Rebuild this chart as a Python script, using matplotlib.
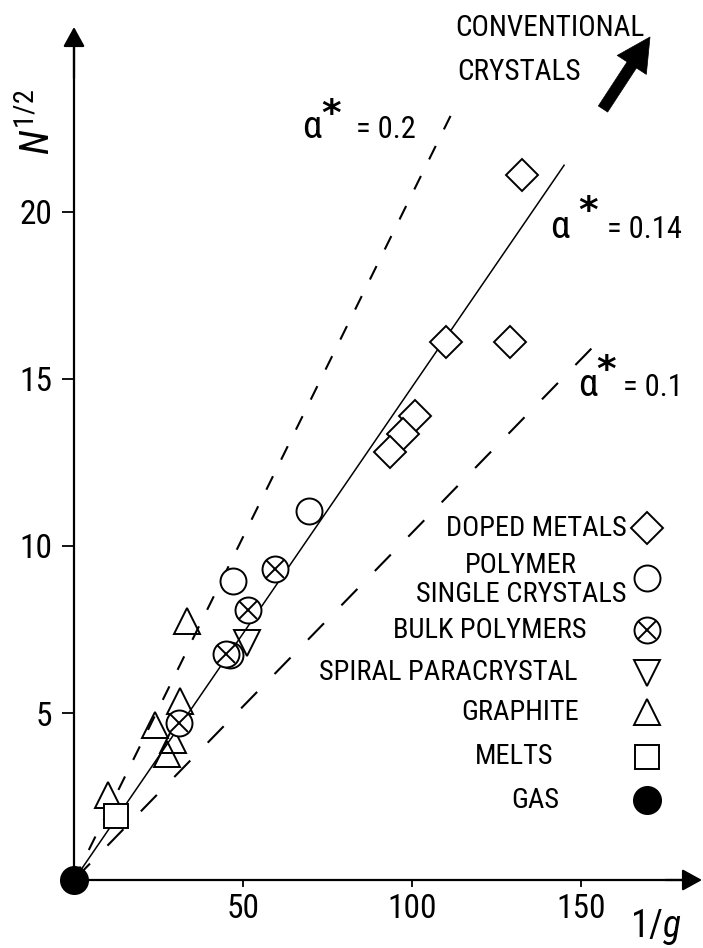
import matplotlib
matplotlib.use("Agg")
import matplotlib.pyplot as plt
from matplotlib import font_manager

# pick a narrow face if there is one, the original lettering is very condensed
names = {f.name for f in font_manager.fontManager.ttflist}
FONT = "DejaVu Sans"
for fam in ["Liberation Sans Narrow", "Roboto Condensed", "Open Sans Condensed"]:
    if fam in names:
        FONT = fam
        break

plt.rcParams["font.family"] = [FONT, "DejaVu Sans"]
plt.rcParams["mathtext.fontset"] = "custom"
plt.rcParams["mathtext.rm"] = FONT
plt.rcParams["mathtext.it"] = FONT + ":italic"
plt.rcParams["lines.scale_dashes"] = False

# %% data  (x = 1/g, y = N^1/2)
doped_x = [132.5, 110.0, 129.0, 101.0, 97.3, 93.5]
doped_y = [21.1, 16.1, 16.1, 13.9, 13.35, 12.8]

single_x = [69.5, 47.1, 46.2]
single_y = [11.06, 8.95, 6.74]

bulk_x = [59.5, 51.4, 45.0, 31.2]
bulk_y = [9.31, 8.08, 6.77, 4.71]

spiral_x = [51.3]
spiral_y = [7.09]

graphite_x = [33.3, 31.4, 24.0, 29.3, 27.4, 10.2]
graphite_y = [7.76, 5.37, 4.65, 4.19, 3.78, 2.54]

melts_x = [12.4]
melts_y = [1.93]

gas_x = [0.0]
gas_y = [0.0]

# alpha* lines, start and end points
a02_x, a02_y = [0, 112], [0, 23.0]
a014_x, a014_y = [0, 145], [0, 21.4]
a01_x, a01_y = [0, 154.7], [0, 16.08]

xticks = [50, 100, 150]
yticks = [5, 10, 15, 20]

legend_labels = ["DOPED METALS", "POLYMER\nSINGLE CRYSTALS", "BULK POLYMERS",
                 "SPIRAL PARACRYSTAL", "GRAPHITE", "MELTS", "GAS"]

# %% figure, axes mapped so the plot sits where it does in the scan
W, H = 703, 948
X0, Y0, SX, SY = 74, 880, 3.38, 33.4   # pixel of origin, px per unit
fig = plt.figure(figsize=(W / 100, H / 100), dpi=100)
ax = fig.add_axes([0, 0, 1, 1])
ax.set_xlim(-X0 / SX, (W - X0) / SX)
ax.set_ylim((Y0 - H) / SY, Y0 / SY)


def fp(xp, yp):
    # pixel position in the scan -> figure fraction
    return xp / W, 1 - yp / H


for s in ["top", "right"]:
    ax.spines[s].set_visible(False)
ax.spines["left"].set_position(("data", 0))
ax.spines["bottom"].set_position(("data", 0))
ax.spines["left"].set_bounds(0, 25.0)
ax.spines["bottom"].set_bounds(0, 182)
for s in ["left", "bottom"]:
    ax.spines[s].set_linewidth(1.6)

ax.set_xticks(xticks)
ax.set_yticks(yticks)
ax.tick_params(axis="y", direction="out", length=8.6, width=1.3, pad=7, labelsize=24)
ax.tick_params(axis="x", direction="out", length=5, width=1.3, pad=4, labelsize=24)

arrow = dict(arrowstyle="-|>,head_length=0.6,head_width=0.33", mutation_scale=20,
             color="k", lw=1.6, shrinkA=0, shrinkB=0)
ax.annotate("", xy=(0, (Y0 - 27) / SY), xytext=(0, 24.0), arrowprops=arrow)
ax.annotate("", xy=((W - 1 - X0) / SX, 0), xytext=(175, 0), arrowprops=arrow)

# %% lines
ax.plot(a02_x, a02_y, color="k", lw=1.5, ls=(0, (10.8, 13.3)), zorder=2)
ax.plot(a014_x, a014_y, color="k", lw=1.1, zorder=2)
ax.plot(a01_x, a01_y, color="k", lw=1.5, ls=(0, (16.5, 18)), zorder=2)

# %% points
mk = dict(ls="none", mec="k", mew=1.4, clip_on=False, zorder=3)
ax.plot(graphite_x, graphite_y, "^", ms=18.7, mfc="none", **mk)
ax.plot(spiral_x, spiral_y, "v", ms=19, mfc="none", **mk)
ax.plot(doped_x, doped_y, "D", ms=16, mfc="white", **mk)
ax.plot(single_x, single_y, "o", ms=18.7, mfc="white", **mk)
ax.plot(bulk_x, bulk_y, "o", ms=18.7, mfc="white", **mk)
ax.plot(bulk_x, bulk_y, "x", ms=12.5, **mk)
ax.plot(melts_x, melts_y, "s", ms=16.8, mfc="white", **mk)
ax.plot(gas_x, gas_y, "o", ms=19.5, mfc="k", **mk)

# %% legend, hand placed like the original
leg_y = [528, 578, 630, 673, 712, 757, 800]
leg_tx = [536, 521, 490, 448, 520, 514, 535]
leg_mk = [("D", 16, "white"), ("o", 18.7, "white"), ("o", 18.7, "white"),
          ("v", 19, "none"), ("^", 18.7, "none"), ("s", 16.8, "white"),
          ("o", 19.5, "k")]
for lab, yp, xp, (m, ms, fc) in zip(legend_labels, leg_y, leg_tx, leg_mk):
    ty = yp if "\n" not in lab else 580
    fig.text(*fp(xp, ty), lab, fontsize=20.5, ha="center", va="center",
             linespacing=1.05)
    mx, my = fp(647, yp)
    ax.plot([mx], [my], m, ms=ms, mfc=fc, transform=fig.transFigure, **mk)
    if lab == "BULK POLYMERS":
        ax.plot([mx], [my], "x", ms=12.5, transform=fig.transFigure, **mk)

# %% alpha* labels
for (ax_, ay), (sx_, sy_), (ex, ey), val in [((312, 128), (331, 115), (356, 130), "0.2"),
                                              ((560, 228), (588, 212), (607, 230), "0.14"),
                                              ((588, 385), (606, 371), (623, 387), "0.1")]:
    fig.text(*fp(ax_, ay), "α", fontsize=28, ha="center", va="center")
    fig.text(*fp(sx_, sy_), "*", fontsize=27, fontweight="bold", ha="center",
             va="center", family="DejaVu Sans")
    fig.text(*fp(ex, ey), "= " + val, fontsize=22, ha="left", va="center")

# %% axis labels
fig.text(*fp(38, 122), r"$N^{1/2}$", fontsize=29, rotation=90, ha="center", va="center")
fig.text(*fp(656, 927), r"$1/g$", fontsize=27, ha="center", va="center")

# %% conventional crystals arrow
fig.text(*fp(455, 28), "CONVENTIONAL", fontsize=21, ha="left", va="center")
fig.text(*fp(457, 72), "CRYSTALS", fontsize=21, ha="left", va="center")
ax.annotate("", xy=((650 - X0) / SX, (Y0 - 37) / SY),
            xytext=((603 - X0) / SX, (Y0 - 109) / SY),
            arrowprops=dict(arrowstyle="simple,head_length=1.2,head_width=1.25,tail_width=0.4",
                            mutation_scale=20, fc="k", ec="k", lw=0.5,
                            shrinkA=0, shrinkB=0))

fig.savefig("out.png", dpi=100)
